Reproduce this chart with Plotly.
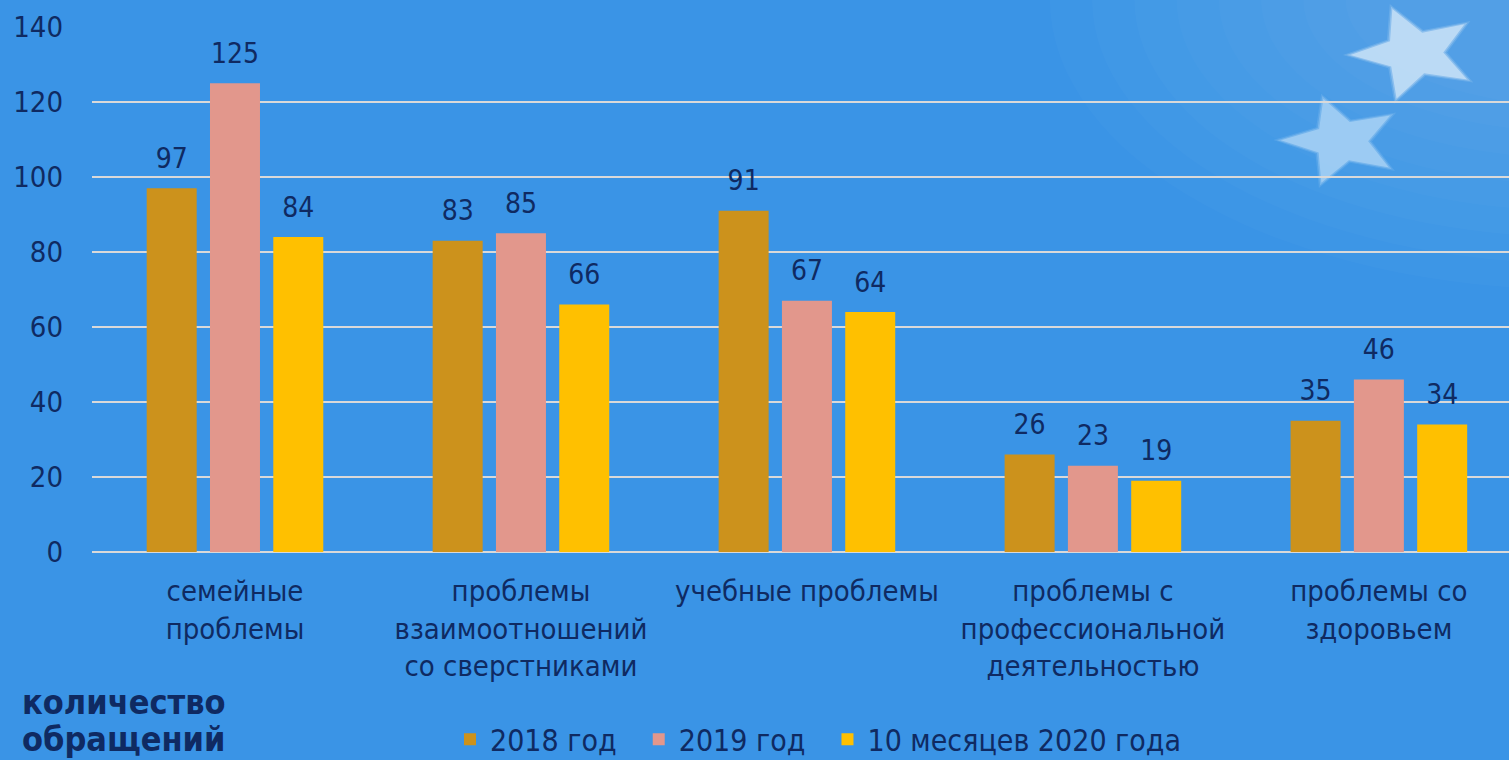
import plotly.graph_objects as go
import math

categories = ["семейные<br>проблемы",
              "проблемы<br>взаимоотношений<br>со сверстниками",
              "учебные проблемы",
              "проблемы с<br>профессиональной<br>деятельностью",
              "проблемы со<br>здоровьем"]
series_names = ["2018 год", "2019 год", "10 месяцев 2020 года"]
values_2018 = [97, 83, 91, 26, 35]
values_2019 = [125, 85, 67, 23, 46]
values_2020 = [84, 66, 64, 19, 34]
colors = ["#CC921C", "#E2978C", "#FFC000"]
y_ticks = [0, 20, 40, 60, 80, 100, 120, 140]
title_lines = ["количество", "обращений"]

FONT = "DejaVu Sans Condensed, Noto Sans, sans-serif"
TXT = "#0F2A62"
BG = "#3A94E6"
BARGAP = 0.336
PAD = "\u00a0\u00a0"

fig = go.Figure()
xs = list(range(len(categories)))
all_vals = [values_2018, values_2019, values_2020]
for i, (name, vals, col) in enumerate(zip(series_names, all_vals, colors)):
    fig.add_trace(go.Bar(
        x=xs, y=vals, name=name + (PAD if i < len(series_names) - 1 else ""),
        marker=dict(color=col, line=dict(width=0)),
        hoverinfo="skip",
    ))
for name, vals in zip(series_names, all_vals):
    fig.add_trace(go.Scatter(
        x=xs, y=vals, mode="markers+text", showlegend=False,
        marker=dict(size=20, opacity=0),
        text=[str(v) for v in vals], textposition="top center",
        textfont=dict(family=FONT, size=28, color=TXT),
        cliponaxis=False, hoverinfo="skip",
    ))

def star_path(cx, cy, r_out, r_in, rot):
    pts = []
    for i in range(10):
        r = r_out if i % 2 == 0 else r_in
        a = math.radians(rot + i * 36)
        pts.append((cx + r * math.cos(a), cy + r * math.sin(a)))
    return "M " + " L ".join(f"{x/1509:.5f},{1 - y/760:.5f}" for x, y in pts) + " Z"

shapes = []
for i in range(8):
    rx = 560 - i * 45
    ry = 420 - i * 38
    shapes.append(dict(type="circle", xref="paper", yref="paper",
                       x0=(1580 - rx)/1509, x1=(1580 + rx)/1509,
                       y0=1 - (-40 + ry)/760, y1=1 - (-40 - ry)/760,
                       fillcolor="white", opacity=0.02, line=dict(width=0), layer="below"))
for k, (grow, op) in enumerate([(8, 0.15), (4, 0.3), (0, 0.55)]):
    shapes.append(dict(type="path", path=star_path(1408, 38, 68 + grow, 31 + grow/2, -38),
                       xref="paper", yref="paper", fillcolor="#E2F0FB", opacity=op,
                       line=dict(width=0), layer="below"))
    shapes.append(dict(type="path", path=star_path(1330, 165, 64 + grow, 29 + grow/2, -35),
                       xref="paper", yref="paper", fillcolor="#BCDDF7", opacity=op,
                       line=dict(width=0), layer="below"))

annotations = []
for line, ypx in zip(title_lines, [702, 739]):
    annotations.append(dict(text=f"<b>{line}</b>", xref="paper", yref="paper",
                            x=-72/1417, y=-(ypx-552)/525, xanchor="left", yanchor="middle",
                            align="left", showarrow=False,
                            font=dict(family=FONT, size=34, color=TXT)))

fig.update_layout(
    width=1509, height=760,
    paper_bgcolor=BG, plot_bgcolor="rgba(0,0,0,0)",
    margin=dict(l=92, r=0, t=27, b=208, autoexpand=False),
    barmode="group", bargap=BARGAP, bargroupgap=0.21,
    scattermode="group", scattergap=BARGAP,
    font=dict(family=FONT, color=TXT, size=29),
    shapes=shapes,
    showlegend=True,
    legend=dict(orientation="h", x=(450 - 92) / 1417, xanchor="left", y=-0.307, yanchor="top",
                font=dict(family=FONT, size=30, color=TXT), bgcolor="rgba(0,0,0,0)",
                itemwidth=30, traceorder="normal"),
    xaxis=dict(tickmode="array", tickvals=xs, ticktext=categories, automargin=False,
               range=[-0.5, 4.455], showgrid=False, zeroline=False, showline=False,
               ticks="", ticklabelstandoff=19, tickfont=dict(family=FONT, size=29, color=TXT)),
    yaxis=dict(range=[0, 140], tickvals=y_ticks, showgrid=True, gridcolor="#D9D9D9", gridwidth=2,
               zeroline=True, zerolinecolor="#D9D9D9", zerolinewidth=2, showline=False,
               ticks="", ticklabelstandoff=28, automargin=False,
               tickfont=dict(family=FONT, size=29, color=TXT)),
    annotations=annotations,
)
fig.write_html("out.html", config={"displayModeBar": False},
               post_script="document.body.style.margin='0';document.body.style.overflow='hidden';")
